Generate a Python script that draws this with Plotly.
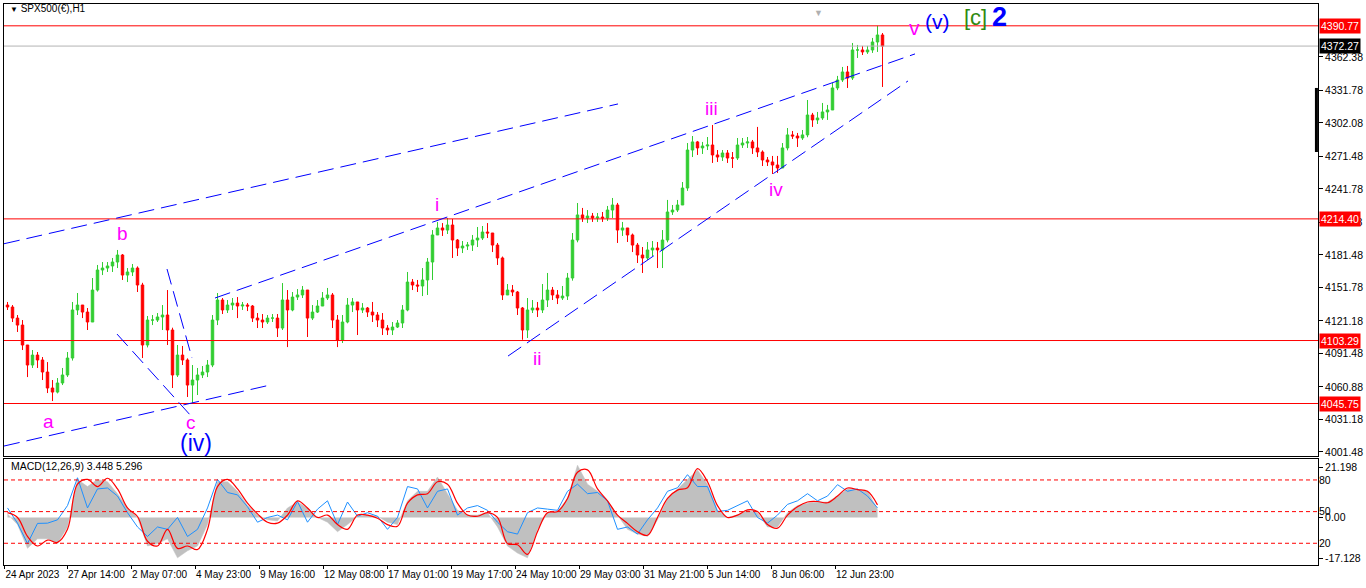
import plotly.graph_objects as go

# SPX500 H1 candles, grouped ~5 bars per candle
first_open = 4135.7
closes = [4133.9, 4123.8, 4117.4, 4099.2, 4080.9, 4090.0, 4085.5, 4074.5, 4059.9, 4056.2,
          4064.5, 4071.8, 4087.3, 4131.2, 4135.7, 4129.3, 4120.2, 4149.4, 4167.7, 4169.5,
          4171.4, 4175.0, 4181.4, 4163.1, 4165.9, 4169.5, 4154.0, 4099.2, 4122.0, 4122.0,
          4124.8, 4126.6, 4112.9, 4071.8, 4090.0, 4085.5, 4062.6, 4067.2, 4071.8, 4074.5,
          4080.9, 4122.0, 4140.3, 4131.2, 4135.7, 4137.5, 4134.8, 4135.7, 4134.8, 4123.8,
          4122.0, 4120.2, 4123.8, 4123.8, 4114.7, 4140.3, 4131.2, 4143.0, 4144.9, 4149.4,
          4123.8, 4129.3, 4134.8, 4142.1, 4144.9, 4122.0, 4103.7, 4120.2, 4135.7, 4138.5,
          4131.2, 4133.0, 4129.3, 4126.6, 4122.0, 4114.7, 4112.9, 4115.6, 4119.3, 4131.2,
          4156.7, 4154.0, 4153.1, 4158.6, 4175.0, 4199.7, 4206.1, 4204.2, 4208.8, 4195.1,
          4187.8, 4189.6, 4190.5, 4195.1, 4196.9, 4202.4, 4201.5, 4190.5, 4178.7, 4144.9,
          4149.4, 4147.6, 4133.0, 4112.9, 4131.2, 4133.0, 4131.2, 4140.3, 4149.4, 4144.9,
          4142.1, 4143.9, 4160.4, 4195.1, 4218.0, 4215.2, 4217.0, 4215.2, 4216.1, 4215.2,
          4222.5, 4227.1, 4204.2, 4206.1, 4199.7, 4190.5, 4181.4, 4178.7, 4186.0, 4187.8,
          4186.0, 4195.1, 4220.7, 4222.5, 4227.1, 4242.6, 4277.3, 4284.7, 4279.2, 4281.0,
          4281.9, 4272.8, 4270.9, 4274.6, 4270.0, 4270.0, 4281.9, 4283.7, 4284.7, 4279.2,
          4275.5, 4268.2, 4266.4, 4263.6, 4260.9, 4279.2, 4291.1, 4290.1, 4288.3, 4291.1,
          4309.3, 4304.8, 4306.6, 4312.1, 4313.9, 4334.0, 4341.3, 4348.6, 4343.1, 4368.7,
          4368.7, 4366.9, 4368.7, 4376.0, 4382.4, 4372.27]
highs = [4138.5, 4135.7, 4126.6, 4122.0, 4099.2, 4094.6, 4092.8, 4088.2, 4083.6, 4067.2,
         4069.0, 4078.2, 4092.8, 4138.5, 4146.7, 4135.7, 4133.0, 4160.4, 4172.3, 4175.0,
         4175.0, 4178.7, 4186.0, 4182.3, 4169.5, 4173.2, 4171.0, 4156.0, 4125.7, 4126.6,
         4128.4, 4135.7, 4149.4, 4115.0, 4099.2, 4098.3, 4087.0, 4080.9, 4078.2, 4080.0,
         4085.5, 4126.6, 4146.7, 4142.1, 4140.3, 4142.1, 4143.0, 4138.5, 4137.5, 4135.7,
         4128.4, 4127.5, 4126.6, 4127.5, 4127.5, 4155.8, 4149.4, 4147.6, 4150.3, 4153.1,
         4149.4, 4135.7, 4140.3, 4147.6, 4151.3, 4146.7, 4126.6, 4126.6, 4142.1, 4142.1,
         4138.5, 4137.5, 4133.9, 4138.5, 4129.3, 4128.4, 4117.4, 4120.2, 4122.0, 4135.7,
         4165.9, 4159.5, 4158.6, 4169.5, 4178.7, 4204.2, 4211.6, 4210.6, 4215.2, 4214.3,
         4196.0, 4194.2, 4193.3, 4199.7, 4207.0, 4207.9, 4210.6, 4201.5, 4192.4, 4180.0,
         4154.9, 4154.0, 4148.5, 4133.9, 4142.1, 4140.3, 4138.5, 4154.9, 4165.0, 4152.2,
         4149.4, 4153.1, 4165.0, 4201.5, 4228.9, 4224.4, 4222.5, 4219.8, 4219.8, 4220.7,
         4226.2, 4233.5, 4229.0, 4211.6, 4206.1, 4201.0, 4192.4, 4188.7, 4193.3, 4194.2,
         4193.3, 4204.2, 4231.7, 4227.1, 4231.7, 4248.1, 4283.7, 4290.1, 4285.6, 4284.7,
         4289.2, 4300.2, 4277.3, 4277.3, 4277.3, 4275.5, 4288.3, 4288.3, 4289.2, 4286.5,
         4298.4, 4277.0, 4270.9, 4271.9, 4271.9, 4283.7, 4297.4, 4294.7, 4292.9, 4295.6,
         4323.0, 4311.2, 4312.1, 4320.3, 4318.5, 4338.6, 4345.0, 4353.2, 4354.1, 4375.1,
         4373.3, 4372.4, 4372.4, 4379.7, 4390.77, 4384.2]
lows = [4131.2, 4120.2, 4111.1, 4094.6, 4069.9, 4078.2, 4078.2, 4067.2, 4055.3, 4048.0,
        4055.0, 4062.6, 4070.0, 4085.0, 4126.6, 4123.8, 4112.9, 4120.2, 4148.0, 4163.1,
        4165.9, 4165.9, 4169.5, 4158.6, 4156.7, 4162.2, 4147.6, 4087.3, 4097.0, 4117.4,
        4120.2, 4112.9, 4099.2, 4059.9, 4070.0, 4080.9, 4051.7, 4045.8, 4053.5, 4069.0,
        4069.9, 4079.0, 4117.4, 4127.5, 4128.4, 4131.2, 4123.8, 4131.2, 4130.2, 4120.2,
        4114.7, 4114.7, 4118.4, 4120.2, 4106.5, 4112.9, 4097.3, 4130.0, 4140.3, 4142.1,
        4106.5, 4122.0, 4128.4, 4134.8, 4140.3, 4114.7, 4097.3, 4101.0, 4119.0, 4129.3,
        4108.3, 4128.4, 4124.8, 4120.2, 4115.6, 4108.3, 4108.3, 4108.3, 4114.7, 4114.7,
        4130.0, 4149.4, 4147.6, 4143.9, 4144.9, 4158.6, 4199.7, 4198.8, 4200.6, 4178.7,
        4180.5, 4183.2, 4186.0, 4185.1, 4188.7, 4195.1, 4196.9, 4184.1, 4172.3, 4140.3,
        4144.9, 4143.9, 4126.6, 4104.0, 4105.6, 4128.4, 4124.8, 4128.4, 4133.9, 4140.3,
        4136.6, 4140.3, 4140.3, 4158.0, 4193.0, 4211.6, 4210.6, 4211.6, 4211.6, 4211.6,
        4212.5, 4215.2, 4192.4, 4198.8, 4193.3, 4184.1, 4174.1, 4165.0, 4176.8, 4180.5,
        4169.5, 4169.5, 4193.0, 4218.0, 4220.7, 4227.1, 4240.0, 4270.9, 4272.8, 4273.7,
        4277.3, 4265.5, 4266.4, 4267.3, 4265.5, 4260.9, 4268.2, 4279.2, 4279.2, 4273.7,
        4270.9, 4262.7, 4262.7, 4255.4, 4256.3, 4260.9, 4277.0, 4287.4, 4280.1, 4286.5,
        4289.0, 4298.4, 4301.1, 4304.8, 4304.8, 4313.9, 4332.0, 4339.5, 4334.0, 4341.3,
        4361.4, 4364.1, 4365.1, 4366.0, 4366.9, 4334.9]

# MACD(12,26,9) sampled every second candle
macd_hist = [1.5, -3, -13, -9, -9, -11, -4, 16, 13, 16,
             15, 10, 4, 0, -12, -11, -9, -17, -14, -12,
             -3, 15, 15, 11, 5, 1, -1, -1.5, 4, 6.5,
             4, 0, -2, -6, -3, 0.5, 1, 0.5, -2, -3,
             7, 11, 11, 17, 10, 3, 1, 1, 2, -4,
             -12, -15, -17, -5, 2, 2.5, 8, 22, 14, 11,
             7, 1, -5, -7, -8, -1, 8, 12, 16, 20,
             14, 3, 0, 1, 3, 2, -4, -4, 2, 5,
             6, 6.5, 6.5, 9, 12, 11.5, 11, 3.4]
macd_signal = [2, 0, -8, -12, -9.5, -10.5, -5, 14, 16, 13,
               16.5, 12, 4, 0.4, -10, -12, -5, -13, -12, -13.5,
               -5, 13, 16, 12, 6, 1.5, -2, -2.4, 1, 7,
               4, 0, 1, -3, -5, 1, 1, -0.3, -3, -3.7,
               6, 9.5, 10, 15, 14, 6, 1, 0.5, 2, 0,
               -11, -11.5, -15.5, -6, 2, 2.5, 8, 19, 20, 12,
               7, 1, -2.5, -6, -7.5, 0, 8, 11.5, 12.5, 20.5,
               15, 5, 0, 1, 3.2, 2.5, -3, -4.5, 1, 4.5,
               6.5, 6.7, 6.2, 9, 12.4, 11.7, 11, 5.3]
macd_fast = [4, -2.4, -11, -2.5, -2.4, -1, 5, 16.7, 4, 12,
             12.4, 9, 2, -4, -8, -4, -5, 0, -8, -5,
             4, 16, 10.5, 9.5, 4.5, -2, 0, 1, -1, 6.7,
             -2, 3.5, 7, -3, 6.5, 0.5, 2, 0.5, -5, 0,
             13, 12, 4, 11, 12, 1, 4, 5, 3, -2,
             -6, -7, 2, 4, 3.5, 3, 11, 14, 10, 10.5,
             7, -5, -4, -7, -1, 4, 11, 12.5, 18, 13,
             13, 2.5, 3, 5, 7, 0, -2.4, 1, 5.5, 7,
             10, 7, 9, 13.8, 11, 12, 9, 4]
macd_levels = [80, 50, 20]

time_pos = [-0.6, 11.9, 24.7, 37.5, 50.3, 63.1, 75.9, 88.7, 101.5, 114.3, 127.1, 139.9, 152.7, 165.5]
time_labels = ['24 Apr 2023', '27 Apr 14:00', '2 May 07:00', '4 May 23:00', '9 May 16:00',
               '12 May 08:00', '17 May 01:00', '19 May 17:00', '24 May 10:00', '29 May 03:00',
               '31 May 21:00', '5 Jun 14:00', '8 Jun 06:00', '12 Jun 23:00']
price_ticks = [4362.38, 4331.78, 4302.08, 4271.48, 4241.78, 4211.18, 4181.48,
               4151.78, 4121.18, 4091.48, 4060.88, 4031.18, 4001.48]

red_levels = [4390.77, 4214.40, 4103.29, 4045.75]
last_price = 4372.27

# trendlines: (candle0, price0, candle1, price1)
trendlines = [(-0.7, 4191.7, 122.1, 4319.4),
              (-0.7, 4006.9, 52.5, 4062.6),
              (21.9, 4109.2, 36.9, 4033.4),
              (31.9, 4168.6, 36.9, 4087.3),
              (41.5, 4142.1, 181.5, 4365.1),
              (100.1, 4089.1, 180.1, 4340.4)]

# wave labels: (text, candle, price, colour, size)
waves = [('b', 22.9, 4201.5, '#FF00FF', 19),
         ('a', 8.1, 4029.7, '#FF00FF', 19),
         ('c', 36.7, 4028.0, '#FF00FF', 19),
         ('(iv)', 37.7, 4009.6, '#0000FF', 23),
         ('i', 85.9, 4227.1, '#FF00FF', 19),
         ('ii', 105.9, 4087.3, '#FF00FF', 19),
         ('iii', 140.7, 4315.7, '#FF00FF', 19),
         ('iv', 153.7, 4240.8, '#FF00FF', 19),
         ('v', 181.3, 4389.0, '#FF00FF', 21),
         ('(v)', 186.0, 4394.3, '#0000FF', 21),
         ('[c]', 193.6, 4398.5, '#2F8A10', 22),
         ('<b>2</b>', 198.3, 4398.5, '#0000FF', 27)]

candles = list(range(len(closes)))
opens = [first_open] + closes[:-1]
macd_x = candles[::2]

FONT = 'Liberation Sans'

fig = go.Figure()
fig.add_trace(go.Candlestick(
    x=candles, open=opens, high=highs, low=lows, close=closes,
    increasing=dict(line=dict(color='#32CD32', width=1), fillcolor='#32CD32'),
    decreasing=dict(line=dict(color='#FF0000', width=1), fillcolor='#FF0000'),
    whiskerwidth=0, showlegend=False, hoverinfo='skip',
    xaxis='x', yaxis='y'))

fig.add_trace(go.Scatter(
    x=macd_x, y=macd_hist, mode='lines', fill='tozeroy',
    line=dict(color='#C0C0C0', width=0.5), fillcolor='#C0C0C0',
    showlegend=False, xaxis='x2', yaxis='y2'))
fig.add_trace(go.Scatter(
    x=macd_x, y=macd_fast, mode='lines',
    line=dict(color='#1E90FF', width=1),
    showlegend=False, xaxis='x2', yaxis='y2'))
fig.add_trace(go.Scatter(
    x=macd_x, y=macd_signal, mode='lines',
    line=dict(color='#FF0000', width=1.2, shape='spline'),
    showlegend=False, xaxis='x2', yaxis='y2'))

shapes = []
for lv in red_levels:
    shapes.append(dict(type='line', xref='x domain', yref='y', x0=0, x1=1, y0=lv, y1=lv,
                       line=dict(color='#FF0000', width=1)))
shapes.append(dict(type='line', xref='x domain', yref='y', x0=0, x1=1, y0=last_price, y1=last_price,
                   line=dict(color='#B4B4B4', width=1)))
for x0, p0, x1, p1 in trendlines:
    shapes.append(dict(type='line', xref='x', yref='y', x0=x0, y0=p0, x1=x1, y1=p1,
                       line=dict(color='#0000FF', width=1, dash='16px,7px')))
for lv in macd_levels:
    shapes.append(dict(type='line', xref='x2 domain', yref='y3', x0=0, x1=1, y0=lv, y1=lv,
                       line=dict(color='#FF0000', width=1, dash='4px,3px')))
# black marker bar on the price scale
shapes.append(dict(type='line', xref='paper', yref='y', x0=0.9988, x1=0.9988, y0=4275.5, y1=4334.0,
                   line=dict(color='black', width=3)))

annotations = []
for text, cx, py, col, size in waves:
    annotations.append(dict(text=text, x=cx, y=py, xref='x', yref='y', showarrow=False,
                            font=dict(family=FONT, size=size, color=col)))
for lv in red_levels:
    annotations.append(dict(text=f'{lv:.2f}', x=1, y=lv, xref='paper', yref='y', xanchor='left',
                            xshift=1, showarrow=False, bgcolor='#FF0000', borderpad=1,
                            font=dict(family=FONT, size=10.5, color='white')))
annotations.append(dict(text=f'{last_price:.2f}', x=1, y=last_price, xref='paper', yref='y',
                        xanchor='left', xshift=1, showarrow=False, bgcolor='black', borderpad=1,
                        font=dict(family=FONT, size=10.5, color='white')))
annotations.append(dict(text='<span style="font-size:8px">▼</span> SPX500(€),H1', x=0.003, y=0.992,
                        xref='paper', yref='paper', xanchor='left', yanchor='middle', showarrow=False,
                        font=dict(family=FONT, size=10, color='black')))
annotations.append(dict(text='MACD(12,26,9) 3.448 5.296', x=0.004, y=0.1765,
                        xref='paper', yref='paper', xanchor='left', yanchor='middle', showarrow=False,
                        font=dict(family=FONT, size=10.5, color='black')))
annotations.append(dict(text='▼', x=162.1, y=1.0, xref='x', yref='paper', yanchor='top',
                        showarrow=False, font=dict(size=9, color='#B0B0B0')))

axis_font = dict(family=FONT, size=10.5, color='black')
time_font = dict(family=FONT, size=10, color='black')

fig.update_layout(
    width=1366, height=588,
    margin=dict(l=4, r=48, t=4, b=23),
    paper_bgcolor='white', plot_bgcolor='white',
    showlegend=False,
    shapes=shapes, annotations=annotations,
    xaxis=dict(domain=[0, 1], range=[-0.7, 262.1], anchor='y', showticklabels=False,
               showgrid=False, zeroline=False, showline=True, mirror=True,
               linecolor='black', linewidth=1, rangeslider=dict(visible=False)),
    yaxis=dict(domain=[0.1943, 1], range=[3997.8, 4410.7], side='right', anchor='x',
               tickvals=price_ticks, ticktext=[f'{v:.2f}' for v in price_ticks],
               ticks='outside', ticklen=4, tickcolor='black', tickfont=axis_font,
               showgrid=False, zeroline=False, showline=True, mirror=True,
               linecolor='black', linewidth=1, automargin=False),
    xaxis2=dict(domain=[0, 1], range=[-0.7, 262.1], anchor='y2', matches='x',
                tickvals=time_pos, ticktext=time_labels, ticklabelposition='outside right',
                tickangle=0, ticks='outside', ticklen=3, tickcolor='black', tickfont=time_font,
                showgrid=False, zeroline=False, showline=True, mirror=True,
                linecolor='black', linewidth=1, automargin=False),
    yaxis2=dict(domain=[0, 0.189], range=[-20.0, 24.6], side='right', anchor='x2',
                tickvals=[21.198, 0, -17.128], ticktext=['21.198', '0.00', '-17.128'],
                ticks='outside', ticklen=4, tickcolor='black', tickfont=axis_font,
                showgrid=False, zeroline=False, showline=True, mirror=True,
                linecolor='black', linewidth=1, automargin=False),
    yaxis3=dict(overlaying='y2', range=[-0.6, 99.9], side='right', anchor='x2',
                tickvals=macd_levels, ticktext=[str(v) for v in macd_levels],
                ticks='', tickfont=axis_font, showgrid=False, zeroline=False,
                showline=False, automargin=False),
)

fig.write_html('out.html', config={'displayModeBar': False},
               post_script="document.body.style.margin='0';")
